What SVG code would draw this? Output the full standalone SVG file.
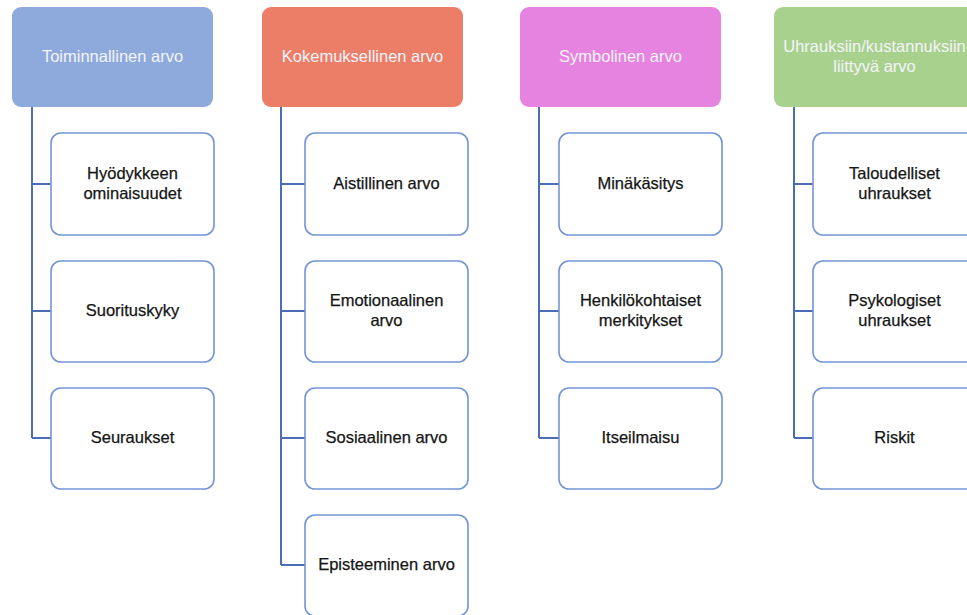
<svg xmlns="http://www.w3.org/2000/svg" width="967" height="615" viewBox="0 0 967 615">
  <style>
    .head { stroke: none; }
    .head-text { font-family: "Liberation Sans", Arial, sans-serif; font-size: 16.5px; fill: #f4f4fb; text-anchor: middle; }
    .item { fill: #ffffff; stroke: #7395d8; stroke-width: 1.6; }
    .item-text { font-family: "Liberation Sans", Arial, sans-serif; font-size: 16.5px; fill: #151515; stroke: #151515; stroke-width: 0.25; text-anchor: middle; }
    .link { fill: none; stroke: #4a6db5; stroke-width: 2; }
  </style>
  <rect width="967" height="615" fill="#ffffff"/>

  <!-- connectors -->
  <g id="connectors">
    <path class="link" d="M32 107 V438 M32 184 H51 M32 311 H51 M32 438 H51"/>
    <path class="link" d="M281 107 V565 M281 184 H305 M281 311 H305 M281 438 H305 M281 565 H305"/>
    <path class="link" d="M539 107 V438 M539 184 H559 M539 311 H559 M539 438 H559"/>
    <path class="link" d="M794 107 V438 M794 184 H813 M794 311 H813 M794 438 H813"/>
  </g>

  <!-- column 1 -->
  <g id="toiminnallinen">
    <rect class="head" x="12" y="7" width="201" height="100" rx="9" fill="#8eaadc"/>
    <text class="head-text" x="112.5" y="62">Toiminnallinen arvo</text>
  </g>
  <g id="hyodykkeen-ominaisuudet">
    <rect class="item" x="51" y="133" width="163" height="102" rx="10"/>
    <text class="item-text" x="132.5" y="179">Hyödykkeen</text>
    <text class="item-text" x="132.5" y="199">ominaisuudet</text>
  </g>
  <g id="suorituskyky">
    <rect class="item" x="51" y="261" width="163" height="101" rx="10"/>
    <text class="item-text" x="132.5" y="316">Suorituskyky</text>
  </g>
  <g id="seuraukset">
    <rect class="item" x="51" y="388" width="163" height="101" rx="10"/>
    <text class="item-text" x="132.5" y="443">Seuraukset</text>
  </g>

  <!-- column 2 -->
  <g id="kokemuksellinen">
    <rect class="head" x="262" y="7" width="201" height="100" rx="9" fill="#ec7d67"/>
    <text class="head-text" x="362.5" y="62">Kokemuksellinen arvo</text>
  </g>
  <g id="aistillinen">
    <rect class="item" x="305" y="133" width="163" height="102" rx="10"/>
    <text class="item-text" x="386.5" y="189">Aistillinen arvo</text>
  </g>
  <g id="emotionaalinen">
    <rect class="item" x="305" y="261" width="163" height="101" rx="10"/>
    <text class="item-text" x="386.5" y="306">Emotionaalinen</text>
    <text class="item-text" x="386.5" y="326">arvo</text>
  </g>
  <g id="sosiaalinen">
    <rect class="item" x="305" y="388" width="163" height="101" rx="10"/>
    <text class="item-text" x="386.5" y="443">Sosiaalinen arvo</text>
  </g>
  <g id="episteeminen">
    <rect class="item" x="305" y="515" width="163" height="101" rx="10"/>
    <text class="item-text" x="386.5" y="570">Episteeminen arvo</text>
  </g>

  <!-- column 3 -->
  <g id="symbolinen">
    <rect class="head" x="520" y="7" width="201" height="100" rx="9" fill="#e683e0"/>
    <text class="head-text" x="620.5" y="62">Symbolinen arvo</text>
  </g>
  <g id="minakasitys">
    <rect class="item" x="559" y="133" width="163" height="102" rx="10"/>
    <text class="item-text" x="640.5" y="189">Minäkäsitys</text>
  </g>
  <g id="henkilokohtaiset">
    <rect class="item" x="559" y="261" width="163" height="101" rx="10"/>
    <text class="item-text" x="640.5" y="306">Henkilökohtaiset</text>
    <text class="item-text" x="640.5" y="326">merkitykset</text>
  </g>
  <g id="itseilmaisu">
    <rect class="item" x="559" y="388" width="163" height="101" rx="10"/>
    <text class="item-text" x="640.5" y="443">Itseilmaisu</text>
  </g>

  <!-- column 4 -->
  <g id="uhrauksiin">
    <rect class="head" x="774" y="7" width="201" height="100" rx="9" fill="#a9d18e"/>
    <text class="head-text" x="874.5" y="52">Uhrauksiin/kustannuksiin</text>
    <text class="head-text" x="874.5" y="72">liittyvä arvo</text>
  </g>
  <g id="taloudelliset">
    <rect class="item" x="813" y="133" width="163" height="102" rx="10"/>
    <text class="item-text" x="894.5" y="179">Taloudelliset</text>
    <text class="item-text" x="894.5" y="199">uhraukset</text>
  </g>
  <g id="psykologiset">
    <rect class="item" x="813" y="261" width="163" height="101" rx="10"/>
    <text class="item-text" x="894.5" y="306">Psykologiset</text>
    <text class="item-text" x="894.5" y="326">uhraukset</text>
  </g>
  <g id="riskit">
    <rect class="item" x="813" y="388" width="163" height="101" rx="10"/>
    <text class="item-text" x="894.5" y="443">Riskit</text>
  </g>
</svg>
